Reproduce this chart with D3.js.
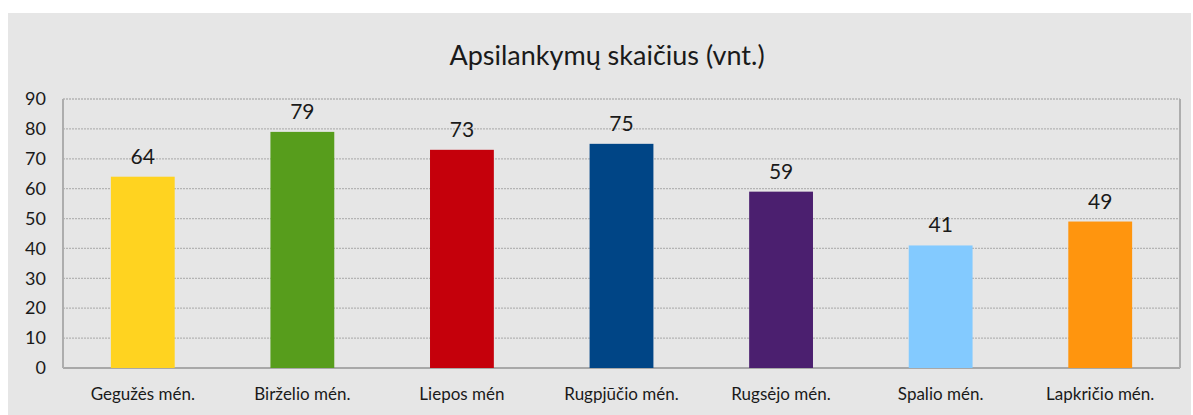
<!DOCTYPE html>
<html lang="lt">
<head>
<meta charset="UTF-8">
<title>Apsilankymų skaičius</title>
<script src="https://d3js.org/d3.v7.min.js"></script>
<style>
  body { margin: 0; background: #fff; }
  svg { display: block; font-family: Lato, "Open Sans", sans-serif; }
  svg text { font-family: Lato, "Open Sans", sans-serif; }
</style>
</head>
<body>
<script>
// duomenys
const months = ["Gegužės mén.", "Birželio mén.", "Liepos mén", "Rugpjūčio mén.", "Rugsėjo mén.", "Spalio mén.", "Lapkričio mén."];
const visits = [64, 79, 73, 75, 59, 41, 49];
const barColors = ["#FFD320", "#579D1C", "#C5000B", "#004586", "#4B1F6F", "#83CAFF", "#FF950E"];
const yTicks = [0, 10, 20, 30, 40, 50, 60, 70, 80, 90];
const title = "Apsilankymų skaičius (vnt.)";

const W = 1193, H = 415;
const plot = { left: 63, right: 1180, top: 99, bottom: 368 };

const svg = d3.select("body").append("svg")
  .attr("width", W)
  .attr("height", H);

// pilkas fonas
svg.append("rect")
  .attr("x", 8).attr("y", 13)
  .attr("width", 1183).attr("height", H - 13)
  .attr("fill", "#E6E6E6");

svg.append("text")
  .attr("x", 607).attr("y", 65)
  .attr("text-anchor", "middle")
  .attr("font-size", 27)
  .attr("fill", "#1a1a1a")
  .text(title);

const x = d3.scaleBand()
  .domain(months)
  .range([plot.left, plot.right])
  .paddingInner(0.6)
  .paddingOuter(0.3);

const y = d3.scaleLinear()
  .domain([0, 90])
  .range([plot.bottom, plot.top]);

// tinklelis
svg.append("g")
  .selectAll("line")
  .data(yTicks)
  .join("line")
  .attr("x1", plot.left).attr("x2", plot.right)
  .attr("y1", d => y(d)).attr("y2", d => y(d))
  .attr("stroke", d => d === 0 ? "#A8A8A8" : "#B4B4B4")
  .attr("stroke-width", d => d === 0 ? 2 : 1.3)
  .attr("stroke-dasharray", d => d === 0 ? null : "2,1");

// rėmelis
svg.append("line")
  .attr("x1", plot.left).attr("x2", plot.left)
  .attr("y1", plot.top).attr("y2", plot.bottom)
  .attr("stroke", "#ADADAD").attr("stroke-width", 2);
svg.append("line")
  .attr("x1", plot.right).attr("x2", plot.right)
  .attr("y1", plot.top).attr("y2", plot.bottom)
  .attr("stroke", "#ADADAD").attr("stroke-width", 2);

const yAxis = svg.append("g")
  .attr("transform", `translate(${plot.left},0)`)
  .call(d3.axisLeft(y).tickValues(yTicks).tickSize(0).tickPadding(17))
  .attr("font-family", null);
yAxis.select(".domain").remove();
yAxis.selectAll("text").attr("font-size", 18).attr("fill", "#1a1a1a");

const xAxis = svg.append("g")
  .attr("transform", `translate(0,${plot.bottom})`)
  .call(d3.axisBottom(x).tickSize(0).tickPadding(20))
  .attr("font-family", null);
xAxis.select(".domain").remove();
xAxis.selectAll("text").attr("font-size", 17).attr("fill", "#1a1a1a");

// stulpeliai
svg.append("g")
  .selectAll("rect")
  .data(visits)
  .join("rect")
  .attr("x", (d, i) => x(months[i]))
  .attr("y", d => y(d))
  .attr("width", x.bandwidth())
  .attr("height", d => y(0) - y(d))
  .attr("fill", (d, i) => barColors[i]);

svg.append("g")
  .selectAll("text")
  .data(visits)
  .join("text")
  .attr("x", (d, i) => x(months[i]) + x.bandwidth() / 2)
  .attr("y", d => y(d) - 13)
  .attr("text-anchor", "middle")
  .attr("font-size", 21)
  .attr("fill", "#1a1a1a")
  .text(d => d);
</script>
</body>
</html>
